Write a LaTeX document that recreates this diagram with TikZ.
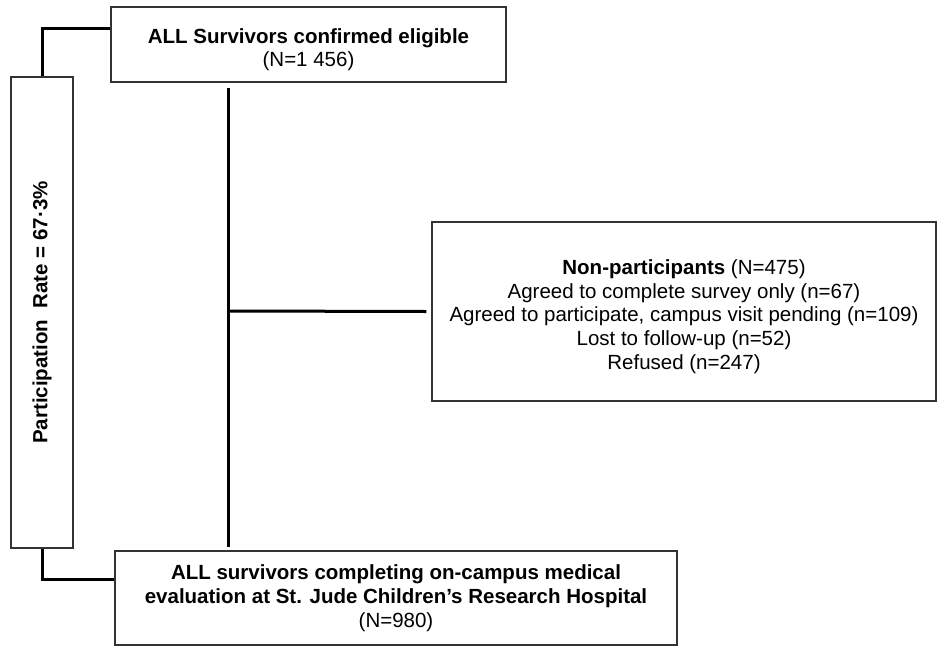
\documentclass[tikz,border=0pt]{standalone}
\usepackage{fontspec}
\setmainfont{Liberation Sans}
\usetikzlibrary{positioning,calc}
\newcommand\boxgap{\rule{0pt}{25pt}}
\tikzset{
  box/.style={draw=black!80,line width=1.3pt,align=center,inner sep=4pt,font=\fontsize{20.5}{23.7}\selectfont},
  conn/.style={line width=3pt}
}
\begin{document}
\begin{tikzpicture}[x=1pt,y=-1pt]
\useasboundingbox (0,0) rectangle (938,646);
% boxes
\node[box,minimum width=395pt,minimum height=75pt] (elig) at (308.5,44.5) {\boxgap\textbf{ALL Survivors confirmed eligible}\\(N=1 456)};
\node[box,rotate=90,minimum width=471pt,minimum height=62pt] (rate) at (42,312.5) {\textbf{Participation\ \ Rate = 67·3\%}};
\node[box,minimum width=504pt,minimum height=179pt] (nonp) at (684,311.5) {\boxgap\textbf{Non-participants} (N=475)\\Agreed to complete survey only (n=67)\\Agreed to participate, campus visit pending (n=109)\\Lost to follow-up (n=52)\\Refused (n=247)};
\node[box,minimum width=562pt,minimum height=94pt] (eval) at (396,598) {\textbf{ALL survivors completing on-campus medical}\\\textbf{evaluation at St. Jude Children’s Research Hospital}\\(N=980)};
% trunk
\coordinate (ttop) at (228,88);
\coordinate (tbot) at (228,547);
\coordinate (tmid) at (228,311);
\draw[conn] (ttop) -- (tbot);
\draw[conn] (tmid) -- ([xshift=-5pt]nonp.west);
% brackets
\draw[conn] (rate.east) |- ($(elig.north west)+(0,22)$);
\draw[conn] (rate.west) |- ($(eval.north west)+(0,29)$);
\end{tikzpicture}
\end{document}
